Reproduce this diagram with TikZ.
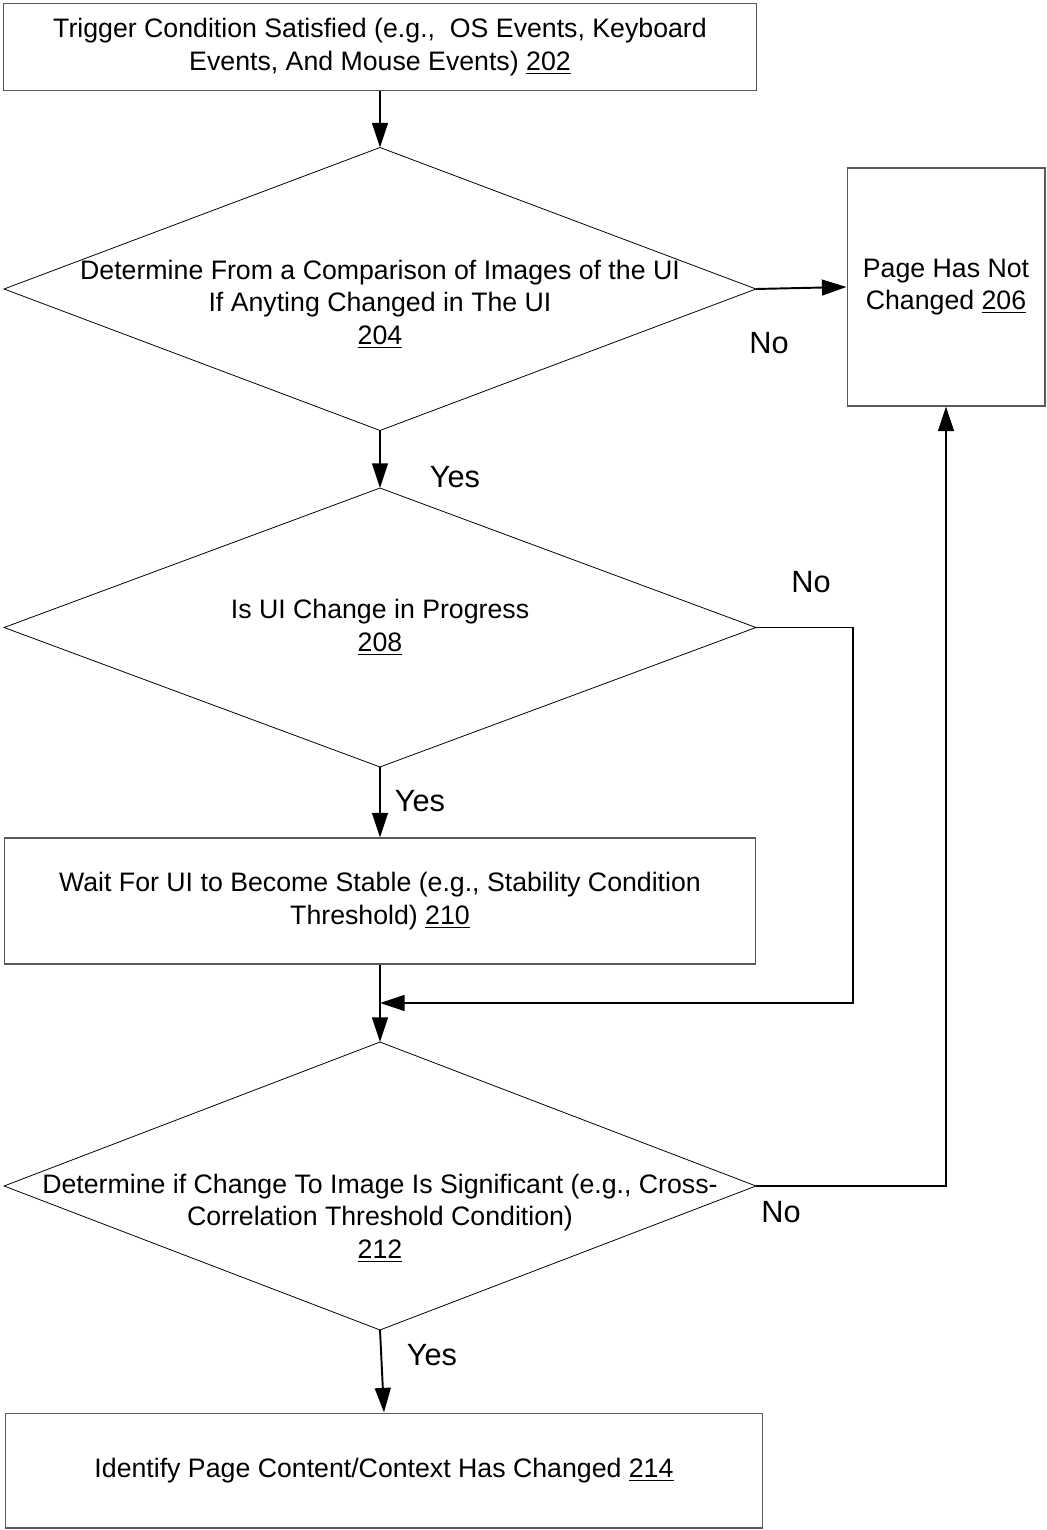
\documentclass[tikz,border=0pt]{standalone}
\usepackage{fontspec}
\setmainfont{Liberation Sans}
\usetikzlibrary{shapes.geometric,arrows.meta}

\begin{document}
\begin{tikzpicture}[x=0.02cm, y=-0.02cm,
  box/.style={draw=black!65, line width=0.6pt, align=center, inner sep=0pt,
    font=\fontsize{15.2}{18.6}\selectfont},
  decision/.style={draw, diamond, line width=0.45pt, inner sep=0pt, outer sep=0pt},
  decisiontext/.style={align=center, font=\fontsize{15.2}{18.6}\selectfont},
  branch/.style={font=\fontsize{17.5}{20}\selectfont},
  arr/.style={line width=1.1pt, -{Triangle[length=14pt, width=9pt]}},
  ln/.style={line width=1.1pt}]
% Set the picture size
\useasboundingbox (0,0) rectangle (1047,1530);

% Draw the boxes and decisions
\node[box, minimum width=15.08cm, minimum height=1.74cm] (b202) at (380,47)
  {Trigger Condition Satisfied (e.g.,~ OS Events, Keyboard\\Events, And Mouse Events) \underline{202}};
\node[decision, minimum width=15.04cm, minimum height=5.66cm] (d204) at (380,289) {};
\node[decisiontext] (t204) at (380,304)
  {Determine From a Comparison of Images of the UI\\If Anyting Changed in The UI\\\underline{204}};
\node[box, minimum width=3.96cm, minimum height=4.76cm] (b206) at (946,287)
  {Page Has Not\\Changed \underline{206}};
\node[decision, minimum width=15.04cm, minimum height=5.58cm] (d208) at (380,627.5) {};
\node[decisiontext] (t208) at (380,627) {Is UI Change in Progress\\\underline{208}};
\node[box, minimum width=15.04cm, minimum height=2.52cm] (b210) at (380,901)
  {Wait For UI to Become Stable (e.g., Stability Condition\\Threshold) \underline{210}};
\node[decision, minimum width=15.04cm, minimum height=5.76cm] (d212) at (380,1186) {};
\node[decisiontext] (t212) at (380,1218)
  {Determine if Change To Image Is Significant (e.g., Cross-\\Correlation Threshold Condition)\\\underline{212}};
\node[box, minimum width=15.16cm, minimum height=2.3cm] (b214) at (384,1470.5)
  {Identify Page Content/Context Has Changed \underline{214}};

% Draw the connectors
\coordinate (j210) at (380,1003);
\coordinate (c208) at (853,1003);
\draw[arr] (b202.south) -- (d204.north);
\draw[arr] (d204.east) -- (b206.west);
\draw[arr] (d204.south) -- (d208.north);
\draw[arr] (d208.east) -| (c208) -- (j210);
\draw[arr] (d208.south) -- (b210.north);
\draw[arr] (b210.south) -- (d212.north);
\draw[arr] (d212.east) -| (b206.south);
\draw[arr] (d212.south) -- (b214.north);

% Branch labels
\node[branch] (no204) at (769,343) {No};
\node[branch] (yes204) at (455,477) {Yes};
\node[branch] (no208) at (811,582) {No};
\node[branch] (yes208) at (420,801) {Yes};
\node[branch] (no212) at (781,1212) {No};
\node[branch] (yes212) at (432,1355) {Yes};
\end{tikzpicture}
\end{document}
